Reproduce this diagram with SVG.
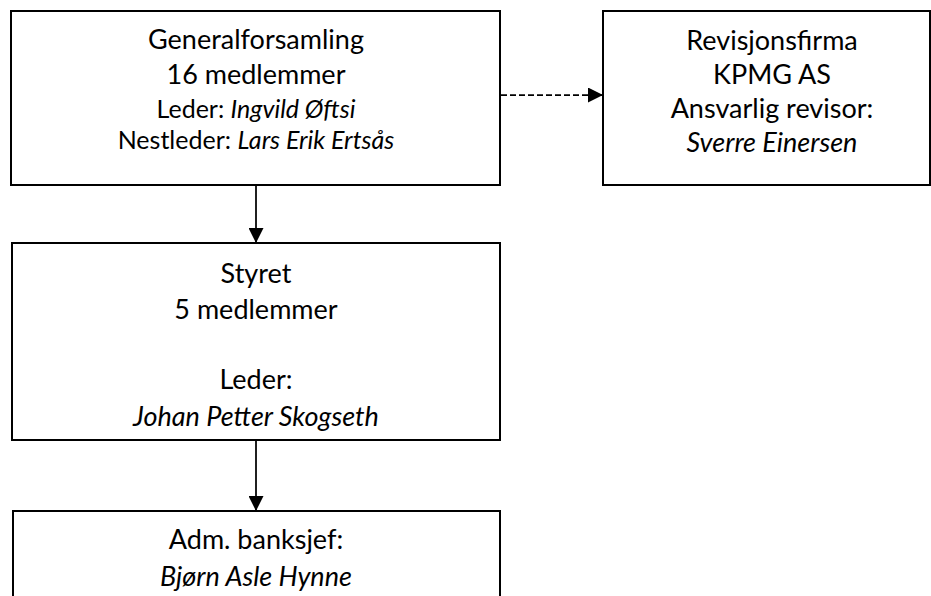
<svg xmlns="http://www.w3.org/2000/svg" width="931" height="596" viewBox="0 0 931 596">
<style>
.box{fill:#fff;stroke:#000;stroke-width:2}
text{font-family:Lato,"Liberation Sans",sans-serif;fill:#000;text-anchor:middle}
.b{font-size:27px}
.s{font-size:25px}
.i{font-style:italic}
.c{stroke:#000;stroke-width:1.75;fill:none}
</style>
<defs>
<marker id="ah" viewBox="0 0 14 14" refX="14" refY="7" markerWidth="15" markerHeight="15" markerUnits="userSpaceOnUse" orient="auto">
<path d="M0,0 L14,7 L0,14 Z" fill="#000"/>
</marker>
</defs>
<g id="connectors">
<line class="c" x1="501" y1="95" x2="603" y2="95" stroke-dasharray="6,3" marker-end="url(#ah)"/>
<line class="c" x1="256" y1="186" x2="256" y2="243" marker-end="url(#ah)"/>
<line class="c" x1="256" y1="441" x2="256" y2="511" marker-end="url(#ah)"/>
</g>
<g id="generalforsamling">
<rect class="box" x="11" y="11" width="489" height="174"/>
<text class="b" x="256" y="49">Generalforsamling</text>
<text class="b" x="256" y="84">16 medlemmer</text>
<text class="s" x="256" y="118">Leder: <tspan class="i">Ingvild Øftsi</tspan></text>
<text class="s" x="256" y="149">Nestleder: <tspan class="i">Lars Erik Ertsås</tspan></text>
</g>
<g id="revisjonsfirma">
<rect class="box" x="603" y="11" width="327" height="174"/>
<text class="b" x="772" y="50">Revisjonsfirma</text>
<text class="b" x="772" y="84">KPMG AS</text>
<text class="b" x="772" y="118">Ansvarlig revisor:</text>
<text class="b i" x="772" y="152">Sverre Einersen</text>
</g>
<g id="styret">
<rect class="box" x="12" y="243" width="488" height="197"/>
<text class="b" x="256" y="283">Styret</text>
<text class="b" x="256" y="319">5 medlemmer</text>
<text class="b" x="256" y="389">Leder:</text>
<text class="b i" x="256" y="426">Johan Petter Skogseth</text>
</g>
<g id="banksjef">
<rect class="box" x="13" y="511" width="487" height="100"/>
<text class="b" x="256" y="549">Adm. banksjef:</text>
<text class="b i" x="256" y="586">Bjørn Asle Hynne</text>
</g>
</svg>
